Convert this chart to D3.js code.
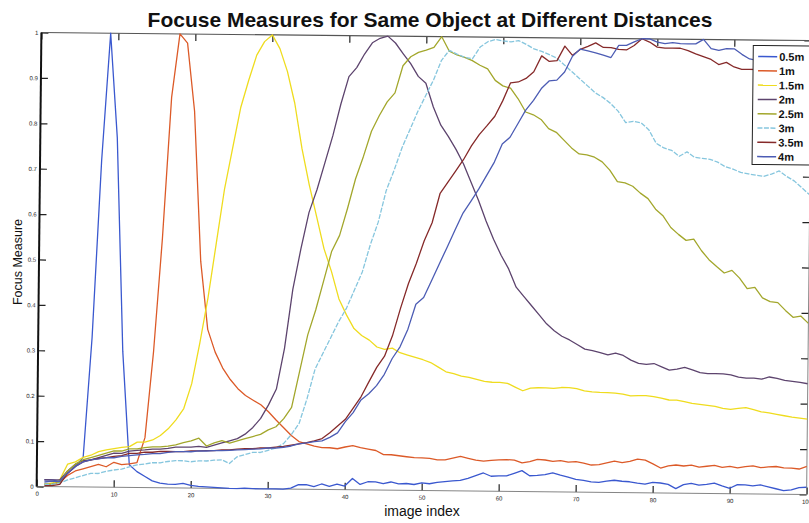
<!DOCTYPE html>
<html>
<head>
<meta charset="utf-8">
<script src="https://cdn.jsdelivr.net/npm/d3@7"></script>
<style>
  body { margin: 0; background: #fff; }
  svg { display: block; }
</style>
</head>
<body>
<svg id="chart" width="809" height="523"></svg>
<script>
// image index along the horizontal axis
const imageIndex = d3.range(1, 101);

// series names, one per object distance
const distances = ["0.5m", "1m", "1.5m", "2m", "2.5m", "3m", "3.5m", "4m"];

// normalised focus measure for each distance
const focus05 = [0.015,0.015,0.012,0.03,0.045,0.065,0.33,0.72,1.0,0.77,0.3,0.05,0.035,0.025,0.015,0.01,0.008,0.008,0.01,0.006,0.004,0.003,0.002,0.001,0,0,0.001,0,0,0,0,0,0.002,0.01,0.01,0.006,0.012,0.007,0.012,0.008,0.025,0.012,0.018,0.018,0.014,0.018,0.014,0.015,0.013,0.017,0.015,0.018,0.02,0.022,0.023,0.028,0.034,0.04,0.033,0.034,0.034,0.04,0.046,0.035,0.036,0.038,0.042,0.037,0.033,0.028,0.026,0.023,0.022,0.025,0.027,0.025,0.024,0.021,0.019,0.023,0.022,0.019,0.01,0.019,0.022,0.018,0.02,0.023,0.017,0.012,0.02,0.02,0.018,0.02,0.016,0.012,0.008,0.01,0.015,0.016];
const focus1 = [0.005,0.006,0.01,0.025,0.035,0.04,0.045,0.05,0.045,0.055,0.05,0.052,0.055,0.11,0.3,0.55,0.86,1.0,0.98,0.83,0.5,0.35,0.3,0.265,0.24,0.22,0.205,0.195,0.185,0.17,0.152,0.135,0.118,0.105,0.1,0.095,0.092,0.092,0.09,0.094,0.097,0.093,0.09,0.087,0.078,0.078,0.076,0.074,0.072,0.072,0.071,0.068,0.068,0.072,0.076,0.072,0.068,0.066,0.068,0.069,0.07,0.069,0.063,0.066,0.071,0.07,0.067,0.069,0.066,0.067,0.064,0.06,0.061,0.065,0.069,0.066,0.069,0.074,0.072,0.064,0.055,0.06,0.062,0.06,0.062,0.058,0.06,0.062,0.058,0.06,0.057,0.06,0.062,0.058,0.06,0.061,0.058,0.058,0.056,0.062];
const focus15 = [0.005,0.008,0.015,0.05,0.055,0.065,0.07,0.078,0.082,0.085,0.088,0.09,0.1,0.1,0.105,0.115,0.13,0.15,0.175,0.23,0.32,0.42,0.54,0.66,0.75,0.84,0.9,0.955,0.985,1.0,0.97,0.92,0.85,0.75,0.67,0.6,0.53,0.48,0.42,0.385,0.355,0.34,0.33,0.315,0.31,0.313,0.303,0.298,0.293,0.288,0.282,0.272,0.262,0.258,0.253,0.25,0.246,0.242,0.24,0.24,0.238,0.23,0.222,0.228,0.229,0.229,0.228,0.23,0.23,0.228,0.223,0.221,0.22,0.22,0.219,0.217,0.213,0.214,0.214,0.212,0.209,0.205,0.205,0.202,0.198,0.196,0.194,0.192,0.188,0.186,0.188,0.19,0.186,0.181,0.179,0.176,0.173,0.17,0.168,0.166];
const focus2 = [0.015,0.015,0.015,0.035,0.05,0.058,0.06,0.065,0.07,0.075,0.075,0.08,0.082,0.083,0.085,0.085,0.087,0.09,0.09,0.09,0.092,0.09,0.095,0.1,0.105,0.11,0.12,0.135,0.155,0.185,0.22,0.31,0.44,0.53,0.61,0.66,0.72,0.78,0.85,0.91,0.93,0.96,0.985,0.995,1.0,0.985,0.962,0.94,0.912,0.897,0.845,0.805,0.78,0.752,0.72,0.68,0.64,0.595,0.555,0.52,0.49,0.45,0.43,0.41,0.39,0.37,0.355,0.343,0.335,0.325,0.315,0.312,0.308,0.303,0.307,0.302,0.292,0.285,0.283,0.285,0.278,0.271,0.273,0.277,0.272,0.266,0.264,0.264,0.264,0.262,0.257,0.255,0.255,0.253,0.258,0.255,0.251,0.249,0.247,0.244];
const focus25 = [0.005,0.006,0.01,0.035,0.05,0.06,0.065,0.07,0.075,0.08,0.08,0.085,0.085,0.088,0.09,0.09,0.092,0.095,0.1,0.104,0.11,0.093,0.1,0.105,0.1,0.105,0.11,0.115,0.12,0.13,0.137,0.155,0.18,0.26,0.34,0.395,0.46,0.525,0.56,0.62,0.685,0.735,0.79,0.825,0.855,0.875,0.935,0.955,0.965,0.97,0.976,1.0,0.968,0.96,0.955,0.948,0.938,0.93,0.905,0.893,0.888,0.865,0.836,0.83,0.82,0.8,0.792,0.775,0.758,0.745,0.743,0.738,0.728,0.71,0.685,0.682,0.675,0.66,0.648,0.625,0.61,0.585,0.57,0.557,0.56,0.535,0.515,0.5,0.486,0.492,0.475,0.452,0.455,0.432,0.424,0.422,0.405,0.39,0.393,0.377];
const focus3 = [0.005,0.005,0.008,0.015,0.02,0.025,0.03,0.03,0.035,0.038,0.04,0.045,0.05,0.052,0.055,0.055,0.058,0.06,0.06,0.058,0.06,0.06,0.062,0.063,0.055,0.07,0.075,0.08,0.08,0.085,0.09,0.1,0.12,0.145,0.2,0.265,0.3,0.335,0.37,0.4,0.44,0.48,0.54,0.59,0.66,0.705,0.755,0.795,0.835,0.87,0.905,0.948,0.97,0.962,0.955,0.952,0.978,0.99,0.995,0.992,0.99,0.993,0.985,0.975,0.97,0.963,0.955,0.94,0.925,0.91,0.895,0.88,0.87,0.857,0.84,0.815,0.818,0.815,0.8,0.77,0.76,0.755,0.742,0.752,0.74,0.738,0.736,0.73,0.72,0.715,0.708,0.705,0.702,0.7,0.705,0.712,0.7,0.69,0.675,0.66];
const focus35 = [0.002,0.002,0.005,0.03,0.045,0.055,0.06,0.063,0.065,0.068,0.07,0.075,0.075,0.078,0.078,0.08,0.08,0.08,0.08,0.082,0.082,0.083,0.083,0.085,0.085,0.087,0.088,0.088,0.09,0.09,0.092,0.094,0.097,0.1,0.103,0.107,0.112,0.125,0.14,0.155,0.18,0.205,0.238,0.27,0.295,0.34,0.4,0.455,0.5,0.55,0.59,0.655,0.68,0.705,0.73,0.76,0.785,0.805,0.826,0.86,0.9,0.902,0.91,0.925,0.96,0.948,0.95,0.982,0.962,0.975,0.982,0.99,0.98,0.98,0.976,0.975,0.985,1.0,0.993,0.982,0.98,0.98,0.98,0.975,0.968,0.962,0.956,0.945,0.95,0.94,0.935,0.935,0.935,0.94,0.94,0.945,0.94,0.935,0.94,0.94];
const focus4 = [0.01,0.012,0.012,0.03,0.045,0.055,0.06,0.062,0.065,0.065,0.068,0.07,0.072,0.073,0.075,0.075,0.078,0.08,0.08,0.08,0.082,0.082,0.083,0.083,0.084,0.085,0.086,0.087,0.088,0.09,0.09,0.092,0.095,0.1,0.102,0.105,0.107,0.115,0.125,0.15,0.17,0.198,0.212,0.23,0.255,0.29,0.316,0.355,0.41,0.425,0.462,0.5,0.537,0.575,0.612,0.638,0.665,0.695,0.725,0.765,0.78,0.81,0.84,0.862,0.888,0.905,0.907,0.925,0.96,0.976,0.972,0.968,0.963,0.958,0.985,0.985,0.993,1.0,1.0,0.993,0.99,0.992,0.99,0.99,0.99,1.0,0.98,0.976,0.98,0.98,0.968,0.958,0.955,0.955,0.955,0.955,0.955,0.955,0.955,0.955];

const seriesValues = [focus05, focus1, focus15, focus2, focus25, focus3, focus35, focus4];
const seriesColors = ["#3a58cf", "#dc5a28", "#efdc1e", "#5d446e", "#a3a72c", "#86c6de", "#862a2a", "#4c5cb4"];

// axis ticks
const xTickValues = d3.range(0, 101, 10);
const xTickLabels = ["0","10","20","30","40","50","60","70","80","90","100"];
const yTickValues = d3.range(0, 11).map(i => i / 10);
const yTickLabels = ["0","0.1","0.2","0.3","0.4","0.5","0.6","0.7","0.8","0.9","1"];

const svg = d3.select("#chart");
const font = "'Liberation Sans', Arial, Helvetica, sans-serif";

const plot = { left: 39, right: 809, top: 36.5, bottom: 490.5 };
const cx = (plot.left + plot.right) / 2, cy = (plot.top + plot.bottom) / 2;

const x = d3.scaleLinear().domain([0, 100]).range([plot.left, plot.right]);
const y = d3.scaleLinear().domain([0, 1]).range([plot.bottom, plot.top]);

// title and axis titles
svg.append("text")
  .attr("x", 430).attr("y", 27)
  .attr("text-anchor", "middle")
  .style("font-family", font).style("font-weight", "bold").style("font-size", "21px")
  .attr("fill", "#111")
  .text("Focuse Measures for Same Object at Different Distances");

svg.append("text")
  .attr("x", 422).attr("y", 516)
  .attr("text-anchor", "middle")
  .style("font-family", font).style("font-size", "14px")
  .attr("fill", "#111")
  .text("image index");

svg.append("text")
  .attr("transform", "translate(22,262) rotate(-90)")
  .attr("text-anchor", "middle")
  .style("font-family", font).style("font-size", "12.5px")
  .attr("fill", "#111")
  .text("Focus Measure");

// the axes box sits slightly tilted on the page
const g = svg.append("g").attr("transform", `rotate(0.6, ${cx}, ${cy})`);

g.append("defs").append("clipPath").attr("id", "plotClip")
  .append("rect")
  .attr("x", plot.left).attr("y", plot.top - 1)
  .attr("width", plot.right - plot.left).attr("height", plot.bottom - plot.top + 2);

g.append("rect")
  .attr("x", plot.left).attr("y", plot.top)
  .attr("width", plot.right - plot.left).attr("height", plot.bottom - plot.top)
  .attr("fill", "#fff");

const tick = 7;

function styleAxis(sel) {
  sel.select(".domain").remove();
  sel.selectAll(".tick line").attr("stroke", "#222").attr("stroke-width", 1.2);
  sel.selectAll(".tick text")
    .style("font-family", font).style("font-size", "6px").attr("fill", "#222");
}

g.append("g").attr("transform", `translate(0,${plot.bottom})`)
  .call(d3.axisBottom(x).tickValues(xTickValues).tickSize(-tick).tickPadding(5)
    .tickFormat((d, i) => xTickLabels[i]))
  .call(styleAxis);

g.append("g").attr("transform", `translate(0,${plot.top})`)
  .call(d3.axisTop(x).tickValues(xTickValues).tickSize(-tick).tickFormat(""))
  .call(styleAxis);

g.append("g").attr("transform", `translate(${plot.left},0)`)
  .call(d3.axisLeft(y).tickValues(yTickValues).tickSize(-tick).tickPadding(3)
    .tickFormat((d, i) => yTickLabels[i]))
  .call(styleAxis);

g.append("g").attr("transform", `translate(${plot.right},0)`)
  .call(d3.axisRight(y).tickValues(yTickValues).tickSize(-tick).tickFormat(""))
  .call(styleAxis);

// frame
g.append("line").attr("x1", plot.left).attr("x2", plot.right)
  .attr("y1", plot.top).attr("y2", plot.top).attr("stroke", "#555").attr("stroke-width", 1.2);
g.append("line").attr("x1", plot.left).attr("x2", plot.right)
  .attr("y1", plot.bottom).attr("y2", plot.bottom).attr("stroke", "#666").attr("stroke-width", 0.8);
g.append("line").attr("x1", plot.right).attr("x2", plot.right)
  .attr("y1", plot.top).attr("y2", plot.bottom).attr("stroke", "#666").attr("stroke-width", 0.8);

// focus measure curves
const line = d3.line()
  .x((d, i) => x(imageIndex[i]))
  .y(d => y(Math.max(0, d)));

g.append("g").attr("clip-path", "url(#plotClip)")
  .selectAll("path")
  .data(seriesValues)
  .join("path")
  .attr("d", d => line(d))
  .attr("fill", "none")
  .attr("stroke", (d, i) => seriesColors[i])
  .attr("stroke-width", 1.3)
  .attr("stroke-linejoin", "round")
  .attr("stroke-dasharray", (d, i) => i === 5 ? "5,1.5" : null);

g.append("line").attr("x1", plot.left).attr("x2", plot.left)
  .attr("y1", plot.top).attr("y2", plot.bottom).attr("stroke", "#111").attr("stroke-width", 2);

// legend
const legend = g.append("g").attr("transform", "translate(751,42)");
legend.append("rect")
  .attr("x", 0).attr("y", 0).attr("width", 64).attr("height", 119)
  .attr("fill", "#fff").attr("stroke", "#222").attr("stroke-width", 1);

const rows = legend.selectAll("g.row")
  .data(distances)
  .join("g").attr("class", "row")
  .attr("transform", (d, i) => `translate(0,${11 + i * 14.3})`);

rows.append("line")
  .attr("x1", 5).attr("x2", 24).attr("y1", 0).attr("y2", 0)
  .attr("stroke", (d, i) => seriesColors[i]).attr("stroke-width", 1.5)
  .attr("stroke-dasharray", (d, i) => i === 5 ? "5,1.5" : null);

rows.append("text")
  .attr("x", 26).attr("y", 4)
  .style("font-family", font).style("font-weight", "bold").style("font-size", "11px")
  .attr("fill", "#111")
  .text(d => d);
</script>
</body>
</html>
